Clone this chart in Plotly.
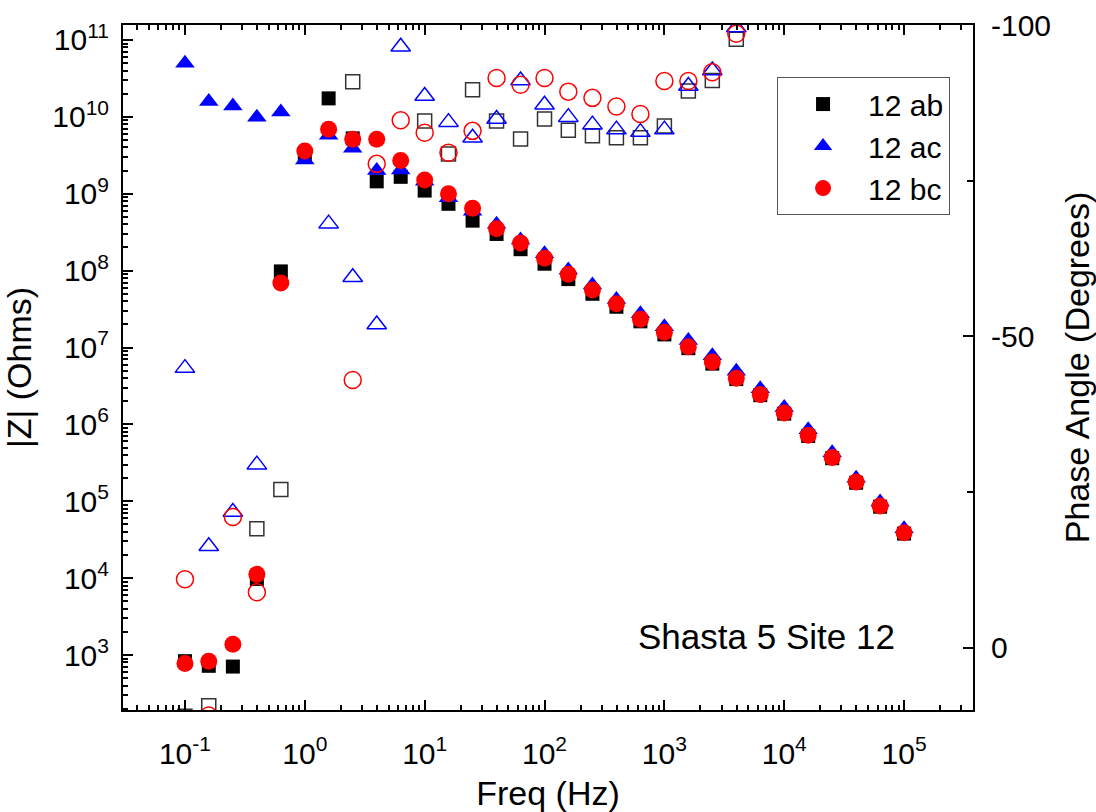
import plotly.graph_objects as go

# Measurement frequencies (Hz), 5 points per decade
freq = [0.1, 0.158, 0.251, 0.398, 0.631, 1, 1.58, 2.51, 3.98, 6.31,
        10, 15.8, 25.1, 39.8, 63.1, 100, 158, 251, 398, 631,
        1000, 1585, 2512, 3981, 6310, 10000, 15849, 25119, 39811, 63096, 100000]

# Impedance magnitude |Z| (Ohms)
z_ab = [832, 724, 708, 9770, 9.77e7, 3.1e9, 1.74e10, 5.25e9, 1.45e9, 1.66e9,
        1.10e9, 7.4e8, 4.47e8, 3.0e8, 1.9e8, 1.23e8, 7.76e7, 5.0e7, 3.39e7, 2.19e7,
        1.48e7, 9.8e6, 6.17e6, 3.89e6, 2.4e6, 1.38e6, 7.08e5, 3.63e5, 1.74e5, 8.5e4, 3.8e4]
z_ac = [5.0e10, 1.58e10, 1.38e10, 9.9e9, 1.16e10, 2.75e9, 5.75e9, 3.9e9, 2.0e9, 2.04e9,
        1.45e9, 8.9e8, 5.9e8, 4.0e8, 2.5e8, 1.66e8, 1.02e8, 6.5e7, 4.2e7, 2.75e7,
        1.86e7, 1.23e7, 7.8e6, 4.9e6, 2.9e6, 1.66e6, 8.5e5, 4.27e5, 2.0e5, 9.8e4, 4.4e4]
z_bc = [776, 832, 1380, 1.12e4, 6.9e7, 3.6e9, 6.9e9, 5.1e9, 5.1e9, 2.7e9,
        1.51e9, 1.0e9, 6.46e8, 3.5e8, 2.29e8, 1.45e8, 9.0e7, 5.6e7, 3.7e7, 2.34e7,
        1.58e7, 1.02e7, 6.46e6, 3.98e6, 2.45e6, 1.41e6, 7.2e5, 3.7e5, 1.78e5, 8.7e4, 3.9e4]

# Phase angle (degrees); None where the value lies off the plotted range
ph_ab = [11.0, 9.3, None, -19.1, -25.4, None, None, -90.9, None, None,
         -84.6, -79.3, -89.6, -84.6, -81.7, -84.9, -83.1, -82.2, -81.9, -81.9,
         -83.8, -89.4, -91.1, -97.7, None, None, None, None, None, None, None]
ph_ac = [-44.9, -16.3, -21.8, -29.4, None, None, -68.1, -59.5, -51.9, -96.5,
         -88.6, -84.4, -81.9, -84.9, -91.1, -87.2, -85.2, -84.0, -83.2, -82.8,
         -83.2, -90.2, -92.7, -99.6, None, None, None, None, None, None, None]
ph_bc = [-11.0, 10.9, -21.0, -8.9, None, None, None, -43.0, -77.7, -84.7,
         -82.7, -79.5, -83.0, -91.5, -90.4, -91.5, -89.3, -88.3, -86.9, -85.7,
         -91.0, -91.0, -92.4, -98.6, None, None, None, None, None, None, None]

names = ["12 ab", "12 ac", "12 bc"]
colors = ["#000000", "#0000ff", "#ff0000"]

x_tickvals = [0.1, 1, 10, 100, 1000, 10000, 100000]
x_ticktext = ["10<sup>-1</sup>", "10<sup>0</sup>", "10<sup>1</sup>", "10<sup>2</sup>",
              "10<sup>3</sup>", "10<sup>4</sup>", "10<sup>5</sup>"]
y_tickvals = [1e3, 1e4, 1e5, 1e6, 1e7, 1e8, 1e9, 1e10, 1e11]
y_ticktext = ["10<sup>%d</sup>" % n for n in range(3, 12)]
y2_tickvals = [-100, -50, 0]
y2_ticktext = ["-100", "-50", "0"]

FONT = "Liberation Sans, Arial, sans-serif"

x_minor = [m * 10.0 ** e for e in range(-2, 6) for m in range(2, 10)]
y_minor = [m * 10.0 ** e for e in range(2, 12) for m in range(2, 10)]

fig = go.Figure()

# |Z| traces (filled markers)
fig.add_trace(go.Scatter(x=freq, y=z_ab, mode="markers", name=names[0],
                         marker=dict(symbol="square", size=14, color=colors[0],
                                     line=dict(width=0))))
fig.add_trace(go.Scatter(x=freq, y=z_ac, mode="markers", name=names[1],
                         marker=dict(symbol="triangle-up", size=17, color=colors[1],
                                     line=dict(width=0))))
fig.add_trace(go.Scatter(x=freq, y=z_bc, mode="markers", name=names[2],
                         marker=dict(symbol="circle", size=17, color=colors[2],
                                     line=dict(width=0))))

# Phase traces (open markers, right axis)
fig.add_trace(go.Scatter(x=freq, y=ph_ab, mode="markers", yaxis="y2", showlegend=False,
                         marker=dict(symbol="square-open", size=14, color="#333333",
                                     line=dict(width=1.5))))
fig.add_trace(go.Scatter(x=freq, y=ph_ac, mode="markers", yaxis="y2", showlegend=False,
                         marker=dict(symbol="triangle-up-open", size=17, color=colors[1],
                                     line=dict(width=1.5))))
fig.add_trace(go.Scatter(x=freq, y=ph_bc, mode="markers", yaxis="y2", showlegend=False,
                         marker=dict(symbol="circle-open", size=17, color=colors[2],
                                     line=dict(width=1.5))))

axis_common = dict(showline=True, linecolor="black", linewidth=2, showgrid=False,
                   zeroline=False, ticks="inside", tickcolor="black", tickwidth=2,
                   ticklen=10, automargin=False,
                   tickfont=dict(family=FONT, size=30, color="black"))

fig.update_layout(
    template="none",
    width=1096, height=812,
    margin=dict(l=123, r=123, t=25, b=102),
    paper_bgcolor="white", plot_bgcolor="white",
    font=dict(family=FONT, color="black"),
    xaxis=dict(type="log", range=[-1.517, 5.575], tickmode="array",
               tickvals=x_tickvals, ticktext=x_ticktext, mirror="ticks",
               ticklabelstandoff=16,
               minor=dict(tickmode="array", tickvals=x_minor, ticks="inside",
                          ticklen=5, tickwidth=1.5, tickcolor="black"),
               title=dict(text="Freq (Hz)", font=dict(family=FONT, size=34),
                          standoff=20),
               **axis_common),
    yaxis=dict(type="log", range=[2.285, 11.195], tickmode="array",
               tickvals=y_tickvals, ticktext=y_ticktext, ticklabelstandoff=6,
               minor=dict(tickmode="array", tickvals=y_minor, ticks="inside",
                          ticklen=5, tickwidth=1.5, tickcolor="black"),
               title=dict(text="|Z| (Ohms)", font=dict(family=FONT, size=34),
                          standoff=12),
               **axis_common),
    yaxis2=dict(overlaying="y", side="right", range=[10, -100], tickmode="array",
                tickvals=y2_tickvals, ticktext=y2_ticktext, ticklabelstandoff=10,
                minor=dict(tickmode="array", tickvals=[-75, -25], ticks="inside",
                           ticklen=6, tickwidth=1.5, tickcolor="black"),
                title=dict(text="Phase Angle (Degrees)", font=dict(family=FONT, size=34),
                           standoff=20),
                **axis_common),
    legend=dict(x=0.973, y=0.924, xanchor="right", yanchor="top",
                bgcolor="white", bordercolor="#555555", borderwidth=1,
                font=dict(family=FONT, size=30, color="black"),
                itemsizing="trace", itemwidth=80),
    annotations=[dict(text="Shasta 5 Site 12", x=0.7565, y=0.1066, xref="paper",
                      yref="paper", showarrow=False, xanchor="center", yanchor="middle",
                      font=dict(family=FONT, size=35, color="black"))],
)

fig.write_html("out.html")
